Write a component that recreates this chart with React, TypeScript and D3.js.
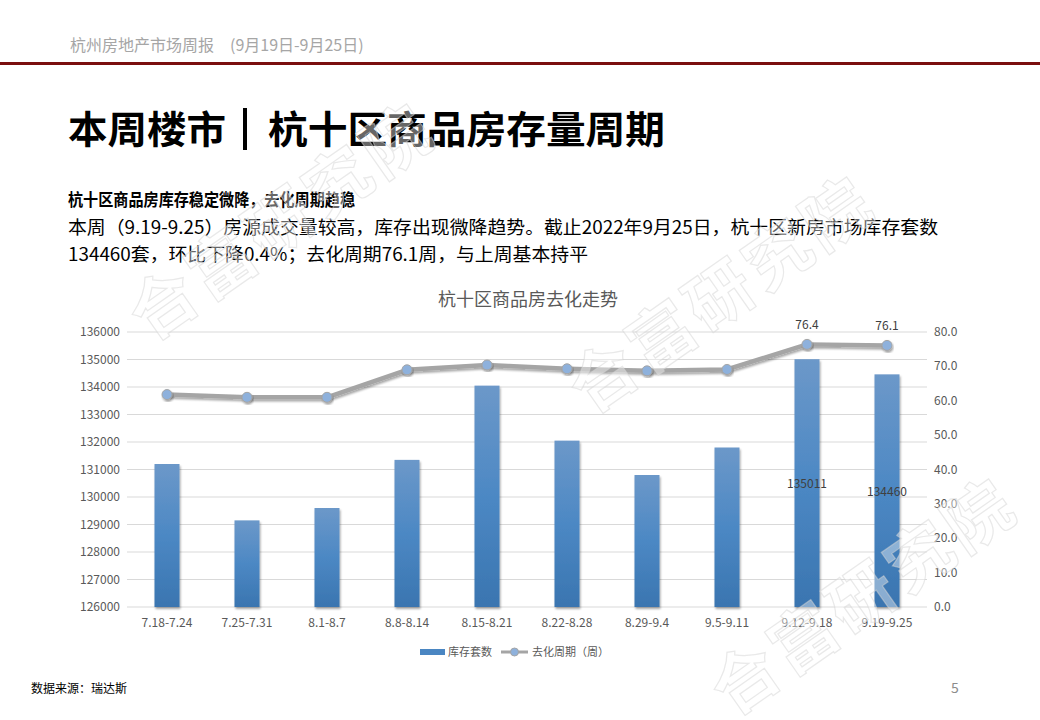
import React, { useEffect, useRef } from 'react';
import * as d3 from 'd3';

const categories = ['7.18-7.24', '7.25-7.31', '8.1-8.7', '8.8-8.14', '8.15-8.21', '8.22-8.28', '8.29-9.4', '9.5-9.11', '9.12-9.18', '9.19-9.25'];
const inventory = [131200, 129150, 129600, 131350, 134050, 132050, 130800, 131800, 135011, 134460];
const cycle = [61.8, 61.0, 61.0, 69.0, 70.4, 69.3, 68.7, 69.1, 76.4, 76.1];
const showBarLabel = [false, false, false, false, false, false, false, false, true, true];
const showLineLabel = [false, false, false, false, false, false, false, false, true, true];
const leftTicks = [126000, 127000, 128000, 129000, 130000, 131000, 132000, 133000, 134000, 135000, 136000];
const rightTicks = [0, 10, 20, 30, 40, 50, 60, 70, 80];

const headerText = '杭州房地产市场周报　(9月19日-9月25日)';
const titleLeft = '本周楼市';
const titleRight = '杭十区商品房存量周期';
const subTitleText = '杭十区商品房库存稳定微降，去化周期趋稳';
const bodyLines = ['本周（9.19-9.25）房源成交量较高，库存出现微降趋势。截止2022年9月25日，杭十区新房市场库存套数', '134460套，环比下降0.4%；去化周期76.1周，与上周基本持平'];
const chartTitle = '杭十区商品房去化走势';
const legendBar = '库存套数';
const legendLine = '去化周期（周）';
const sourceText = '数据来源：瑞达斯';
const pageNo = '5';
const watermark = '合富研究院';

const FONT = '"Noto Sans CJK SC", "Microsoft YaHei", sans-serif';

export default function App() {
  const ref = useRef<SVGSVGElement>(null);

  useEffect(() => {
    document.body.style.margin = '0';
    const svg = d3.select(ref.current);
    svg.selectAll('*').remove();

    const defs = svg.append('defs');
    const grad = defs.append('linearGradient').attr('id', 'barGrad').attr('x1', 0).attr('y1', 0).attr('x2', 0).attr('y2', 1);
    grad.append('stop').attr('offset', '0%').attr('stop-color', '#6c98c9');
    grad.append('stop').attr('offset', '50%').attr('stop-color', '#4c88c4');
    grad.append('stop').attr('offset', '100%').attr('stop-color', '#3a75b0');
    const sh = defs.append('filter').attr('id', 'shadow').attr('x', '-20%').attr('y', '-20%').attr('width', '140%').attr('height', '140%');
    sh.append('feGaussianBlur').attr('in', 'SourceAlpha').attr('stdDeviation', 1.2);
    sh.append('feOffset').attr('dx', 1).attr('dy', 1.5).attr('result', 'ob');
    sh.append('feComponentTransfer').append('feFuncA').attr('type', 'linear').attr('slope', 0.35);
    const m = sh.append('feMerge');
    m.append('feMergeNode');
    m.append('feMergeNode').attr('in', 'SourceGraphic');

    svg.append('rect').attr('width', 1040).attr('height', 720).attr('fill', '#ffffff');

    // header
    svg.append('text').attr('x', 70).attr('y', 51).attr('font-family', FONT).attr('font-size', 16).attr('fill', '#a6a6a6').text(headerText);
    svg.append('rect').attr('x', 0).attr('y', 62).attr('width', 1040).attr('height', 3).attr('fill', '#7a0e0e');

    // title
    svg.append('text').attr('x', 68).attr('y', 143).attr('font-family', FONT).attr('font-size', 38).attr('font-weight', 700).attr('fill', '#000')
      .attr('textLength', 158).attr('lengthAdjust', 'spacingAndGlyphs').text(titleLeft);
    svg.append('rect').attr('x', 243).attr('y', 108).attr('width', 4).attr('height', 42).attr('fill', '#000');
    svg.append('text').attr('x', 268).attr('y', 143).attr('font-family', FONT).attr('font-size', 38).attr('font-weight', 700).attr('fill', '#000')
      .attr('textLength', 397).attr('lengthAdjust', 'spacingAndGlyphs').text(titleRight);
    svg.append('text').attr('x', 68).attr('y', 206).attr('font-family', FONT).attr('font-size', 17).attr('font-weight', 700).attr('fill', '#000')
      .attr('textLength', 287).attr('lengthAdjust', 'spacingAndGlyphs').text(subTitleText);
    const bodyW = [870, 520];
    bodyLines.forEach((l, i) => {
      svg.append('text').attr('x', 68).attr('y', 234 + i * 27).attr('font-family', FONT).attr('font-size', 18).attr('fill', '#000')
        .attr('textLength', bodyW[i]).attr('lengthAdjust', 'spacingAndGlyphs').text(l);
    });

    // chart
    const x0 = 127, x1 = 927, yTop = 332, yBot = 607;
    const x = d3.scaleBand<string>().domain(categories).range([x0, x1]).padding(0);
    const yL = d3.scaleLinear().domain([126000, 136000]).range([yBot, yTop]);
    const yR = d3.scaleLinear().domain([0, 80]).range([yBot, yTop]);

    svg.append('text').attr('x', (x0 + x1) / 2 + 1).attr('y', 306).attr('text-anchor', 'middle').attr('font-family', FONT).attr('font-size', 18).attr('fill', '#595959').text(chartTitle);

    const g = svg.append('g');
    g.selectAll('line.grid').data(leftTicks).join('line').attr('class', 'grid')
      .attr('x1', x0).attr('x2', x1).attr('y1', d => yL(d)).attr('y2', d => yL(d))
      .attr('stroke', '#d9d9d9').attr('stroke-width', 1);

    g.selectAll('text.lt').data(leftTicks).join('text').attr('class', 'lt')
      .attr('x', 120).attr('y', d => yL(d) + 4).attr('text-anchor', 'end')
      .attr('font-family', FONT).attr('font-size', 12).attr('fill', '#595959').text(d => String(d));
    g.selectAll('text.rt').data(rightTicks).join('text').attr('class', 'rt')
      .attr('x', 934).attr('y', d => yR(d) + 4).attr('text-anchor', 'start')
      .attr('font-family', FONT).attr('font-size', 12).attr('fill', '#595959').text(d => d.toFixed(1));
    g.selectAll('text.xt').data(categories).join('text').attr('class', 'xt')
      .attr('x', d => (x(d) as number) + x.bandwidth() / 2).attr('y', 627).attr('text-anchor', 'middle')
      .attr('font-family', FONT).attr('font-size', 12).attr('fill', '#595959').text(d => d);

    const bw = 25;
    g.selectAll('rect.bar').data(inventory).join('rect').attr('class', 'bar')
      .attr('x', (d, i) => (x(categories[i]) as number) + x.bandwidth() / 2 - bw / 2)
      .attr('y', d => yL(d)).attr('width', bw).attr('height', d => yBot - yL(d))
      .attr('fill', 'url(#barGrad)').attr('filter', 'url(#shadow)');

    g.selectAll('text.bl').data(inventory.map((v, i) => ({ v, i })).filter(o => showBarLabel[o.i])).join('text').attr('class', 'bl')
      .attr('x', o => (x(categories[o.i]) as number) + x.bandwidth() / 2)
      .attr('y', o => (yL(o.v) + yBot) / 2 + 5).attr('text-anchor', 'middle')
      .attr('font-family', FONT).attr('font-size', 12).attr('fill', '#404040').text(o => String(o.v));

    const line = d3.line<number>().x((d, i) => (x(categories[i]) as number) + x.bandwidth() / 2).y(d => yR(d));
    g.append('path').datum(cycle).attr('d', line).attr('fill', 'none').attr('stroke', '#a5a5a5').attr('stroke-width', 4.5)
      .attr('stroke-linejoin', 'round').attr('stroke-linecap', 'round').attr('filter', 'url(#shadow)');
    g.selectAll('circle.pt').data(cycle).join('circle').attr('class', 'pt')
      .attr('cx', (d, i) => (x(categories[i]) as number) + x.bandwidth() / 2).attr('cy', d => yR(d)).attr('r', 5)
      .attr('fill', '#8eb1dc').attr('stroke', '#a5a5a5').attr('stroke-width', 1).attr('filter', 'url(#shadow)');
    g.selectAll('text.ll').data(cycle.map((v, i) => ({ v, i })).filter(o => showLineLabel[o.i])).join('text').attr('class', 'll')
      .attr('x', o => (x(categories[o.i]) as number) + x.bandwidth() / 2)
      .attr('y', o => yR(o.v) - 15).attr('text-anchor', 'middle')
      .attr('font-family', FONT).attr('font-size', 12).attr('fill', '#404040').text(o => o.v.toFixed(1));

    // legend
    const lg = svg.append('g');
    lg.append('rect').attr('x', 420).attr('y', 649).attr('width', 25).attr('height', 6).attr('fill', '#4a86c2');
    lg.append('text').attr('x', 448).attr('y', 656).attr('font-family', FONT).attr('font-size', 11).attr('fill', '#595959').text(legendBar);
    lg.append('line').attr('x1', 501).attr('x2', 528).attr('y1', 652).attr('y2', 652).attr('stroke', '#a5a5a5').attr('stroke-width', 3);
    lg.append('circle').attr('cx', 514.5).attr('cy', 652).attr('r', 4).attr('fill', '#8eb1dc').attr('stroke', '#a5a5a5').attr('stroke-width', 1);
    lg.append('text').attr('x', 532).attr('y', 656).attr('font-family', FONT).attr('font-size', 11).attr('fill', '#595959').text(legendLine);

    // footer
    svg.append('text').attr('x', 31).attr('y', 693).attr('font-family', FONT).attr('font-size', 12).attr('fill', '#000').text(sourceText);
    svg.append('text').attr('x', 951).attr('y', 693).attr('font-family', FONT).attr('font-size', 14).attr('fill', '#8c8c8c').text(pageNo);

    // watermarks
    const wm = [[160, 305], [600, 378], [742, 680]];
    wm.forEach(([cx, cy]) => {
      svg.append('text').attr('transform', `translate(${cx},${cy}) rotate(-35)`)
        .attr('x', -30).attr('y', 25)
        .attr('font-family', FONT).attr('font-size', 66).attr('font-weight', 700).attr('letter-spacing', 5)
        .attr('fill', '#ffffff').attr('fill-opacity', 0.4).attr('stroke', '#d4d4d4').attr('stroke-opacity', 0.5).attr('stroke-width', 1.2)
        .attr('pointer-events', 'none')
        .text(watermark);
    });
  }, []);

  return <svg ref={ref} width={1040} height={720} style={{ position: 'absolute', left: 0, top: 0, display: 'block' }} />;
}
